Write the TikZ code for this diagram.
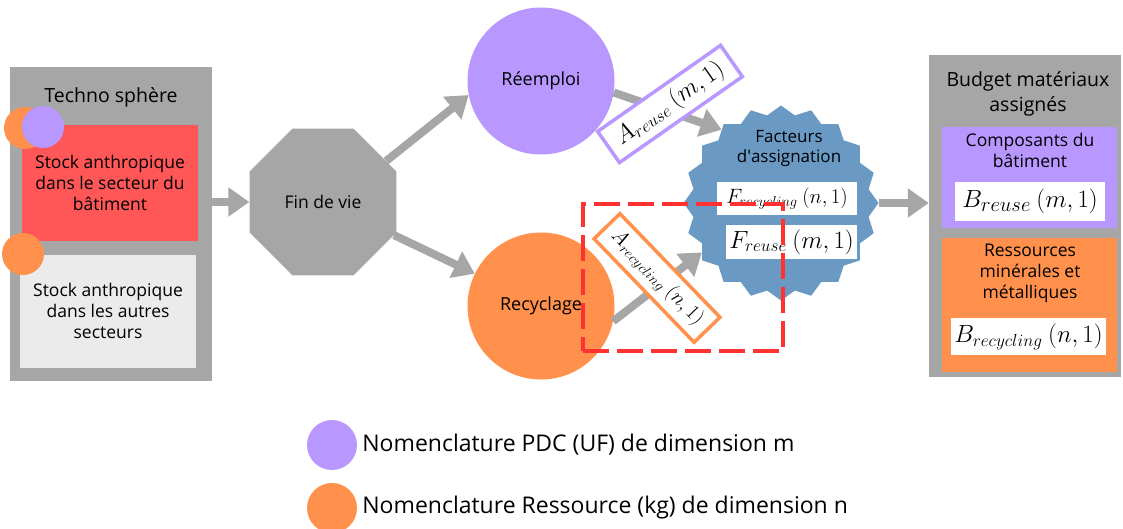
\documentclass[tikz,border=0pt]{standalone}
\usepackage{fontspec}
\setmainfont{Open Sans}
\usepackage{amsmath}
\usetikzlibrary{positioning,arrows.meta,shapes.geometric}
\definecolor{panelgray}{HTML}{A6A6A6}
\definecolor{stockred}{HTML}{FF5757}
\definecolor{stocklight}{HTML}{EBEBEB}
\definecolor{pdc}{HTML}{B897FF}
\definecolor{ressource}{HTML}{FF914D}
\definecolor{facteur}{HTML}{6A9AC4}
\definecolor{alerte}{HTML}{FF3131}
\tikzset{
  panel/.style={fill=panelgray, inner sep=0pt},
  ptitle/.style={align=center, font=\fontsize{19.5}{25}\selectfont},
  stock/.style={inner sep=2pt, align=center, font=\fontsize{17.5}{21}\selectfont},
  dot/.style={circle, inner sep=0pt, minimum size=42pt},
  bigdot/.style={circle, inner sep=0pt, minimum size=147pt, font=\fontsize{18}{22}\selectfont},
  flow/.style={-{Triangle[length=21pt,width=28pt]}, line width=8pt, panelgray},
  matbox/.style={fill=white, inner sep=0pt},
  tag/.style={draw, fill=white, line width=3.5pt, inner sep=0pt},
  zone/.style={draw=alerte, line width=4.5pt, dash pattern=on 26pt off 8pt},
  legend/.style={anchor=west, inner sep=0pt, font=\fontsize{23}{28}\selectfont},
}
\begin{document}
\begin{tikzpicture}[x=1pt, y=-1pt]
  \fill[white] (0,0) rectangle (1123,528);
  \useasboundingbox (0,0) rectangle (1123,528);

  % techno sphere
  \node[panel, minimum width=202pt, minimum height=314pt] (techno) at (111,224) {};
  \node[ptitle] (technotitle) at (111,97) {Techno sphère};
  \node[stock, fill=stockred, minimum width=176pt, minimum height=116pt] (batiment) at (110,183)
    {Stock anthropique\\dans le secteur du\\bâtiment};
  \node[stock, fill=stocklight, minimum width=176pt, minimum height=113pt] (autres) at (108,311)
    {Stock anthropique\\dans les autres\\secteurs};
  \node[dot, fill=ressource] (dotbatr) at (25,128) {};
  \node[dot, fill=pdc]       (dotbatp) at (43,127) {};
  \node[dot, fill=ressource] (dotautr) at (23,254) {};

  % fin de vie et filieres
  \node[regular polygon, regular polygon sides=8, minimum size=159pt, inner sep=0pt,
        fill=panelgray, font=\fontsize{17.5}{20}\selectfont] (fin) at (323,202) {Fin de vie};
  \node[bigdot, fill=pdc]       (reemploi)  at (541,81)  {Réemploi};
  \node[bigdot, fill=ressource] (recyclage) at (541,306) {Recyclage};

  % facteurs
  \node[star, star points=20, star point ratio=1.1, minimum size=195pt, inner sep=0pt,
        fill=facteur] (facteurs) at (781,203) {};
  \node[align=center, font=\fontsize{17}{20}\selectfont] (factitle) at (789,148)
    {Facteurs\\d\textquotesingle assignation};
  \node[matbox, minimum width=140pt, minimum height=33pt, font=\fontsize{22}{24}\selectfont]
    (frecy) at (787,198.5) {$F_{recycling}\:(n,1)$};
  \node[matbox, minimum width=131pt, minimum height=34pt, font=\fontsize{25}{27}\selectfont]
    (freuse) at (791.5,242) {$F_{reuse}\:(m,1)$};

  % budget
  \node[panel, minimum width=192pt, minimum height=322pt] (budget) at (1025,216) {};
  \node[ptitle] (budtitle) at (1028,94) {Budget matériaux\\assignés};
  \node[fill=pdc, minimum width=175pt, minimum height=101pt, inner sep=0pt] (compo) at (1029.5,177.5) {};
  \node[stock] (compotitle) at (1030,150) {Composants du\\bâtiment};
  \node[matbox, minimum width=150pt, minimum height=39pt, font=\fontsize{28}{30}\selectfont]
    (breuse) at (1030,201.5) {$B_{reuse}\:(m,1)$};
  \node[fill=ressource, minimum width=175pt, minimum height=134pt, inner sep=0pt] (resso) at (1029.5,305) {};
  \node[stock] (ressotitle) at (1030,273) {Ressources\\minérales et\\métalliques};
  \node[matbox, minimum width=155pt, minimum height=37pt, font=\fontsize{25}{27}\selectfont]
    (brecy) at (1028.5,336.5) {$B_{recycling}\:(n,1)$};

  % fleches
  \draw[flow] (techno.east |- fin.west) -- (fin.west);
  \draw[flow] (fin.33) -- (reemploi.191);
  \draw[flow] (fin.-25) -- (recyclage.154);
  \draw[flow] (reemploi.-9) -- (facteurs.129);
  \draw[flow] (recyclage.-12) -- (facteurs.212);
  \draw[flow] (facteurs.east) -- (budget.west |- facteurs.east);

  % matrices A
  \node[tag, draw=pdc, rotate=35, minimum width=150pt, minimum height=38pt,
        font=\fontsize{27}{30}\selectfont] (areuse) at (670,104) {$A_{reuse}\:(m,1)$};
  \node[tag, draw=ressource, rotate=-46, minimum width=144pt, minimum height=36pt,
        font=\fontsize{21.5}{24}\selectfont] (arecy) at (657,278) {$A_{recycling}\:(n,1)$};

  \node[zone, minimum width=200pt, minimum height=147pt, inner sep=0pt] (zoomzone) at (683,277.5) {};

  % legende
  \node[dot, minimum size=50pt, fill=pdc] (legpdc) at (332,445) {};
  \node[legend, right=5pt of legpdc] (legpdctxt) {Nomenclature PDC (UF) de dimension m};
  \node[dot, minimum size=50pt, fill=ressource] (legres) at (332,508) {};
  \node[legend, right=5pt of legres] (legrestxt) {Nomenclature Ressource (kg) de dimension n};
\end{tikzpicture}
\end{document}
